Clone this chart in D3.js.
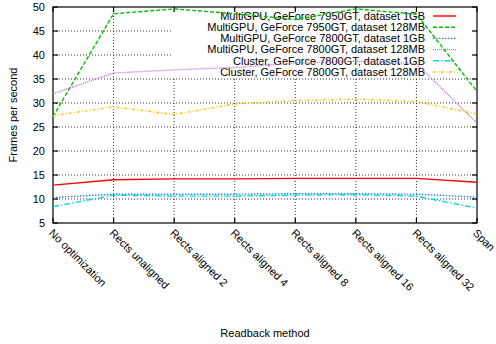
<!DOCTYPE html>
<html>
<head>
  <meta charset="UTF-8" />
  <script src="https://d3js.org/d3.v7.min.js"></script>
  <style>
    body { margin: 0; background: #fff; }
    svg { display: block; font-family: "Liberation Sans", Arial, sans-serif; }
  </style>
</head>
<body>
  <svg width="496" height="344" id="chart"></svg>
  <script>
    const methods = ["No optimization", "Rects unaligned", "Rects aligned 2", "Rects aligned 4",
      "Rects aligned 8", "Rects aligned 16", "Rects aligned 32", "Span"];
    const seriesNames = [
      "MultiGPU, GeForce 7950GT, dataset 1GB",
      "MultiGPU, GeForce 7950GT, dataset 128MB",
      "MultiGPU, GeForce 7800GT, dataset 1GB",
      "MultiGPU, GeForce 7800GT, dataset 128MB",
      "Cluster, GeForce 7800GT, dataset 1GB",
      "Cluster, GeForce 7800GT, dataset 128MB"
    ];
    const gpu7950_1gb = [12.9, 14.0, 14.2, 14.2, 14.3, 14.3, 14.3, 13.5];
    const gpu7950_128mb = [27.2, 48.6, 49.6, 48.6, 47.4, 49.6, 48.5, 32.4];
    const gpu7800_1gb = [10.3, 11.0, 11.0, 11.0, 11.1, 11.1, 11.0, 10.4];
    const gpu7800_128mb = [31.9, 36.25, 36.9, 37.4, 38.3, 38.7, 38.2, 25.8];
    const cluster_1gb = [8.4, 10.8, 10.6, 10.6, 10.8, 10.9, 10.6, 8.1];
    const cluster_128mb = [27.35, 29.2, 27.6, 29.8, 30.5, 30.8, 30.3, 27.7];
    const yTicks = [5, 10, 15, 20, 25, 30, 35, 40, 45, 50];

    const allSeries = [gpu7950_1gb, gpu7950_128mb, gpu7800_1gb, gpu7800_128mb, cluster_1gb, cluster_128mb];
    const colors = ["#ff0000", "#00c000", "#2a7fff", "#c466ff", "#00dede", "#ffc800"];
    const dashes = [null, "4,2", "1.5,1.5", "1,1", "6,2,1.5,2", "3,2,1,2"];

    const svg = d3.select("#chart");
    const pLeft = 53, pRight = 477, pTop = 7, pBottom = 223;

    const x = d3.scalePoint().domain(methods).range([pLeft, pRight]);
    const y = d3.scaleLinear().domain([5, 50]).range([pBottom, pTop]);

    // grid
    const grid = svg.append("g");
    grid.selectAll(".hg").data(yTicks.slice(1, -1)).join("line")
      .attr("x1", pLeft).attr("x2", pRight)
      .attr("y1", d => y(d)).attr("y2", d => y(d));
    grid.selectAll(".vg").data(methods.slice(1, -1)).join("line")
      .attr("x1", d => x(d)).attr("x2", d => x(d))
      .attr("y1", pTop).attr("y2", pBottom);
    grid.selectAll("line")
      .attr("stroke", "#333").attr("stroke-width", 1).attr("stroke-dasharray", "1,2");

    // key area clears the grid
    svg.append("rect").attr("x", 171).attr("y", pTop + 1)
      .attr("width", pRight - 172).attr("height", 70).attr("fill", "#fff");

    // border
    svg.append("rect").attr("x", pLeft).attr("y", pTop)
      .attr("width", pRight - pLeft).attr("height", pBottom - pTop)
      .attr("fill", "none").attr("stroke", "#000").attr("stroke-width", 1.2);

    // ticks (inward, mirrored)
    const ticks = svg.append("g").attr("stroke", "#000").attr("stroke-width", 1.2);
    yTicks.forEach(t => {
      ticks.append("line").attr("x1", pLeft).attr("x2", pLeft + 5).attr("y1", y(t)).attr("y2", y(t));
      ticks.append("line").attr("x1", pRight).attr("x2", pRight - 5).attr("y1", y(t)).attr("y2", y(t));
    });
    methods.forEach(m => {
      ticks.append("line").attr("x1", x(m)).attr("x2", x(m)).attr("y1", pBottom).attr("y2", pBottom - 5);
      ticks.append("line").attr("x1", x(m)).attr("x2", x(m)).attr("y1", pTop).attr("y2", pTop + 5);
    });

    // y tick labels
    svg.append("g").selectAll("text").data(yTicks).join("text")
      .attr("x", pLeft - 8).attr("y", d => y(d)).attr("dy", "0.35em")
      .attr("text-anchor", "end").attr("font-size", 11).attr("fill", "#000")
      .text(d => d);

    // x tick labels
    svg.append("g").selectAll("text").data(methods).join("text")
      .attr("transform", d => `translate(${x(d) - 2},${pBottom + 8}) rotate(45)`)
      .attr("dy", "0.35em")
      .attr("font-size", 11).attr("fill", "#000")
      .text(d => d);

    // axis titles
    svg.append("text").attr("transform", `translate(17,${(pTop + pBottom) / 2}) rotate(-90)`)
      .attr("text-anchor", "middle").attr("font-size", 11).text("Frames per second");
    svg.append("text").attr("x", (pLeft + pRight) / 2).attr("y", 337)
      .attr("text-anchor", "middle").attr("font-size", 11).text("Readback method");

    // key
    const key = svg.append("g");
    seriesNames.forEach((name, i) => {
      const ky = 16 + i * 11.2;
      key.append("text").attr("x", 425).attr("y", ky).attr("dy", "0.35em")
        .attr("text-anchor", "end").attr("font-size", 11).text(name);
      key.append("line").attr("x1", 433).attr("x2", 456).attr("y1", ky).attr("y2", ky)
        .attr("stroke", colors[i]).attr("stroke-width", 1.4)
        .attr("stroke-dasharray", dashes[i]);
    });

    // data lines
    const line = d3.line().x((d, i) => x(methods[i])).y(d => y(d));
    svg.append("g").selectAll("path").data(allSeries).join("path")
      .attr("d", line)
      .attr("fill", "none")
      .attr("stroke", (d, i) => colors[i])
      .attr("stroke-width", 1.4)
      .attr("stroke-dasharray", (d, i) => dashes[i]);
  </script>
</body>
</html>
